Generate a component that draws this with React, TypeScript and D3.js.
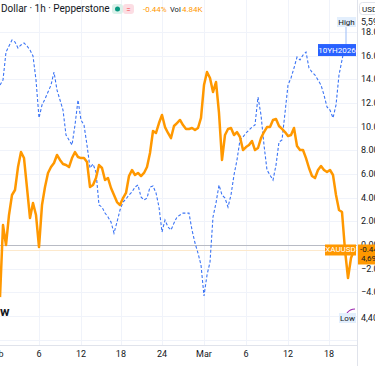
import React from 'react'
import * as d3 from 'd3'

const width = 375
const height = 366
const plotW = 357
const plotH = 345

// XAUUSD, % change over the window, one value every 3 bars
const goldPct = [
  -4.4, 1.69, 0.0, 2.54, 4.23, 4.65, 6.59, 7.86, 7.35, 4.82,
  2.28, 3.55, 2.54, -0.17, 3.38, 4.9, 6.09, 6.59, 6.93, 7.61,
  7.19, 6.85, 6.76, 6.59, 7.35, 7.86, 7.44, 7.35, 7.35, 7.02,
  4.9, 5.07, 5.66, 6.76, 6.51, 5.49, 5.66, 4.82, 4.23, 3.63,
  3.38, 3.97, 4.4, 5.83, 6.34, 5.92, 6.09, 5.83, 6.09, 6.59,
  7.78, 9.64, 9.47, 10.31, 10.99, 9.97, 9.47, 9.04, 10.06, 10.31,
  10.57, 10.14, 9.81, 9.81, 9.89, 9.72, 9.89, 10.74, 13.52, 14.62,
  14.12, 12.93, 13.78, 11.16, 7.19, 9.3, 9.81, 9.89, 9.3, 9.55,
  9.13, 8.03, 8.28, 8.45, 8.79, 8.03, 8.2, 9.04, 9.55, 9.97,
  9.97, 10.57, 10.65, 10.06, 9.81, 9.55, 9.21, 9.3, 9.89, 8.37,
  8.03, 8.03, 7.35, 6.51, 5.83, 5.66, 6.34, 6.68, 6.34, 6.17,
  6.34, 5.92, 4.23, 2.96, 2.79, -0.42, -2.79, -1.1, -0.42,
]

// 10YH2026, % change over the window
const bondPct = [
  13.52, 13.95, 16.31, 16.82, 17.33, 17.16, 16.65, 16.91, 17.08, 16.82,
  16.48, 15.98, 13.95, 10.74, 11.83, 12.34, 12.93, 13.52, 14.62, 13.1,
  12.26, 11.41, 9.3, 8.88, 8.45, 10.14, 12.26, 10.57, 10.14, 8.45,
  6.51, 6.85, 6.17, 3.38, 3.21, 2.7, 2.37, 1.94, 1.01, 1.94,
  2.96, 3.63, 3.89, 4.23, 4.48, 4.9, 5.07, 4.06, 3.8, 3.97,
  4.9, 4.99, 4.4, 3.21, 1.1, 2.11, 1.52, 1.27, 1.86, 2.37,
  2.54, 2.7, 2.7, 2.7, 1.27, 0.17, -0.68, -1.69, -4.31, -2.54,
  -1.44, 2.37, 3.55, 5.07, 4.23, 3.97, 3.21, 4.23, 5.92, 7.19,
  8.88, 9.13, 9.47, 9.72, 9.97, 10.14, 12.51, 10.99, 8.45, 6.34,
  5.92, 5.49, 6.76, 8.71, 8.88, 11.16, 13.52, 14.12, 14.96, 15.89,
  15.64, 16.06, 16.31, 14.96, 14.62, 14.37, 13.95, 13.52, 12.68, 11.67,
  11.41, 10.74, 11.83, 14.37, 15.64, 16.91, 16.06, 16.48,
]

const pctTicks = [18, 16, 14, 12, 10, 8, 6, 4, 2, 0, -2, -4]
const pctGrid = [18, 16, 14, 12, 10, 8, 6, 4, 2, 0, -2, -4, -6, -8]
const dateLabels = ['Feb', '6', '12', '18', '24', 'Mar', '6', '12', '18']
const dateBars = [-1.3, 13, 27, 40.3, 54, 68, 82, 96, 109.7]

const goldChange = '-0.44%'
const goldPrice = '4,69'
const highPrice = '5,59'
const lowPrice = '4,40'

const font = 'Roboto, "Noto Sans", sans-serif'
const textColor = '#131722'
const orange = '#ff9800'
const blue = '#2962ff'

export default function App() {
  const x = d3.scaleLinear().domain([0, 118]).range([0, 354])
  const y = d3.scaleLinear().domain([-8.45, 20.71]).range([plotH, 0])
  const line = d3
    .line<number>()
    .x((d, i) => x(i))
    .y((d) => y(d))
  const fmt = (v: number) => d3.format('.2f')(v).replace('-', '−') + '%'

  const goldLastY = y(goldPct[goldPct.length - 1])
  const bondLastY = y(bondPct[bondPct.length - 1])

  return (
    <svg
      width={width}
      height={height}
      style={{ position: 'absolute', left: 0, top: 0, background: '#fff' }}
      fontFamily={font}
    >
      <defs>
        <clipPath id="plot">
          <rect x={0} y={0} width={plotW} height={plotH} />
        </clipPath>
      </defs>

      {/* grid */}
      <g stroke="#f0f3fa" strokeWidth={1}>
        {pctGrid.map((v) => (
          <line key={'h' + v} x1={0} x2={plotW} y1={Math.round(y(v)) + 0.5} y2={Math.round(y(v)) + 0.5} />
        ))}
        {dateBars.map((b, i) => (
          <line key={'v' + i} x1={Math.round(x(b)) + 0.5} x2={Math.round(x(b)) + 0.5} y1={0} y2={plotH} />
        ))}
      </g>

      {/* zero and last-price lines */}
      <line x1={0} x2={plotW} y1={Math.round(y(0)) + 0.5} y2={Math.round(y(0)) + 0.5} stroke="#b8bbc4" />
      <line x1={0} x2={plotW} y1={Math.round(goldLastY) + 0.5} y2={Math.round(goldLastY) + 0.5} stroke="#fde9cc" />

      <g clipPath="url(#plot)" fill="none">
        <path d={line(bondPct) || ''} stroke="#3b74f5" strokeWidth={1.1} strokeDasharray="3 2" />
        <path d={line(goldPct) || ''} stroke={orange} strokeWidth={2.5} strokeLinejoin="round" />
      </g>

      {/* axes frame */}
      <line x1={plotW + 0.5} x2={plotW + 0.5} y1={0} y2={height} stroke="#e0e3eb" />
      <line x1={0} x2={plotW} y1={plotH + 0.5} y2={plotH + 0.5} stroke="#e0e3eb" />

      {/* right scale */}
      <g fontSize={9} fill={textColor} dominantBaseline="central">
        {pctTicks.map((v) => (
          <text key={v} x={361} y={y(v)}>
            {fmt(v)}
          </text>
        ))}
        <text x={361} y={22}>{highPrice}</text>
        <text x={361} y={318}>{lowPrice}</text>
      </g>

      {/* time scale */}
      <g fontSize={9} fill={textColor} textAnchor="middle">
        {dateLabels.map((t, i) => (
          <text key={i} x={x(dateBars[i])} y={357}>
            {t}
          </text>
        ))}
      </g>

      {/* header */}
      <text x={1} y={12} fontSize={10} fill={textColor}>
        Dollar · 1h · Pepperstone
      </text>
      <rect x={112} y={4} width={11} height={10} rx={3} fill="#daf1ea" />
      <circle cx={117.5} cy={9} r={2.5} fill="#089981" />
      <rect x={123} y={4} width={11} height={10} rx={3} fill="#fcdde3" />
      <text x={128.5} y={12} fontSize={8} fill="#f23645" textAnchor="middle">
        =
      </text>
      <text x={143} y={12} fontSize={8} fill={orange}>
        {goldChange}
      </text>
      <text x={170} y={12} fontSize={7.5} fill={textColor}>
        Vol
      </text>
      <text x={182} y={12} fontSize={8} fill={orange}>
        4.84K
      </text>

      {/* USD unit box */}
      <rect x={359.5} y={2.5} width={20} height={12} rx={3} fill="#fff" stroke="#e0e3eb" />
      <text x={362} y={11.5} fontSize={8} fill={textColor}>
        USD
      </text>

      {/* High marker */}
      <line x1={346} x2={346} y1={27} y2={bondLastY - 5} stroke="#9bbcf7" />
      <rect x={337} y={17} width={19} height={10} fill="#e3effd" />
      <text x={346.5} y={22} fontSize={8} fill={textColor} textAnchor="middle" dominantBaseline="central">
        High
      </text>

      {/* series labels */}
      <rect x={318} y={bondLastY - 6} width={38} height={12} fill={blue} />
      <text x={337} y={bondLastY} fontSize={8} fill="#fff" textAnchor="middle" dominantBaseline="central">
        10YH2026
      </text>
      <rect x={325} y={goldLastY - 5.5} width={31} height={11} fill={orange} />
      <text x={340.5} y={goldLastY} fontSize={8} fill="#fff" textAnchor="middle" dominantBaseline="central">
        XAUUSD
      </text>
      <rect x={358} y={goldLastY - 5.5} width={17} height={20} fill={orange} />
      <text x={360} y={goldLastY} fontSize={8} fill={textColor} dominantBaseline="central">
        {goldChange}
      </text>
      <text x={361} y={goldLastY + 9} fontSize={8} fill={textColor} dominantBaseline="central">
        {goldPrice}
      </text>

      {/* Low marker */}
      <path d="M347,313 Q350,309 355,309" fill="none" stroke="#9c27b0" strokeWidth={1.2} />
      <rect x={339} y={313} width={17} height={10} fill="#e3effd" />
      <text x={347.5} y={318} fontSize={8} fill={textColor} textAnchor="middle" dominantBaseline="central">
        Low
      </text>

      {/* logo fragment */}
      <text x={0} y={316} fontSize={13} fontWeight="bold" fill={textColor}>
        w
      </text>
    </svg>
  )
}
